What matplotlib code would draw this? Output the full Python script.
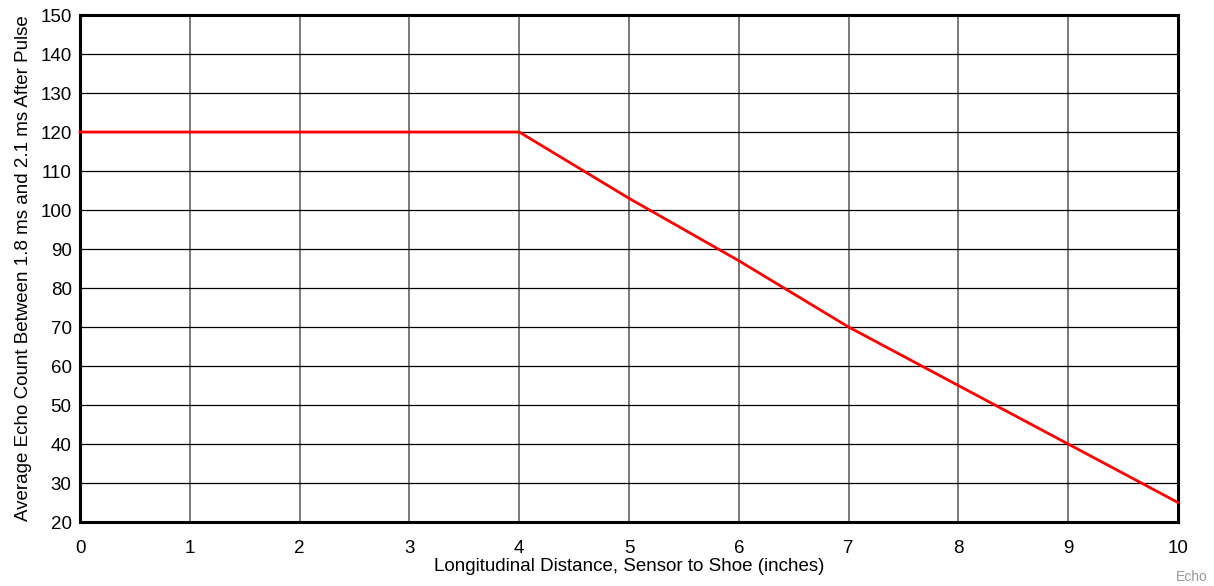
import matplotlib
matplotlib.use("Agg")
import matplotlib.pyplot as plt

x_inches = [0, 4, 5, 6, 7, 8, 9, 10]
echo_count = [120, 120, 103, 87, 70, 55, 40, 25]
x_ticks = list(range(0, 11))
y_ticks = list(range(20, 151, 10))

plt.rcParams['font.family'] = ['Liberation Sans', 'DejaVu Sans']

fig = plt.figure(figsize=(12.14, 5.86), dpi=100)
ax = fig.add_axes([0.0659, 0.1092, 0.9044, 0.8652])

ax.plot(x_inches, echo_count, color='#ff0000', lw=2.0, zorder=3, clip_on=False)

ax.set_xlim(0, 10)
ax.set_ylim(20, 150)
ax.set_xticks(x_ticks)
ax.set_yticks(y_ticks)
ax.tick_params(axis='both', length=0, labelsize=13.5)
ax.tick_params(axis='x', pad=13)
ax.tick_params(axis='y', pad=6)

for v in x_ticks[1:-1]:
    ax.axvline(v, color='#707070', lw=1.3, zorder=1)
for v in y_ticks[1:-1]:
    ax.axhline(v, color='black', lw=0.9, zorder=1)

for s in ax.spines.values():
    s.set_linewidth(2.2)
    s.set_color('black')

ax.set_xlabel('Longitudinal Distance, Sensor to Shoe (inches)', fontsize=13.5, labelpad=1)
ax.set_ylabel('Average Echo Count Between 1.8 ms and 2.1 ms After Pulse', fontsize=13.5, labelpad=6)

fig.text(0.995, 0.016, 'Echo', color='#999999', fontsize=10, ha='right', va='center')

fig.savefig('out.png', dpi=100)
